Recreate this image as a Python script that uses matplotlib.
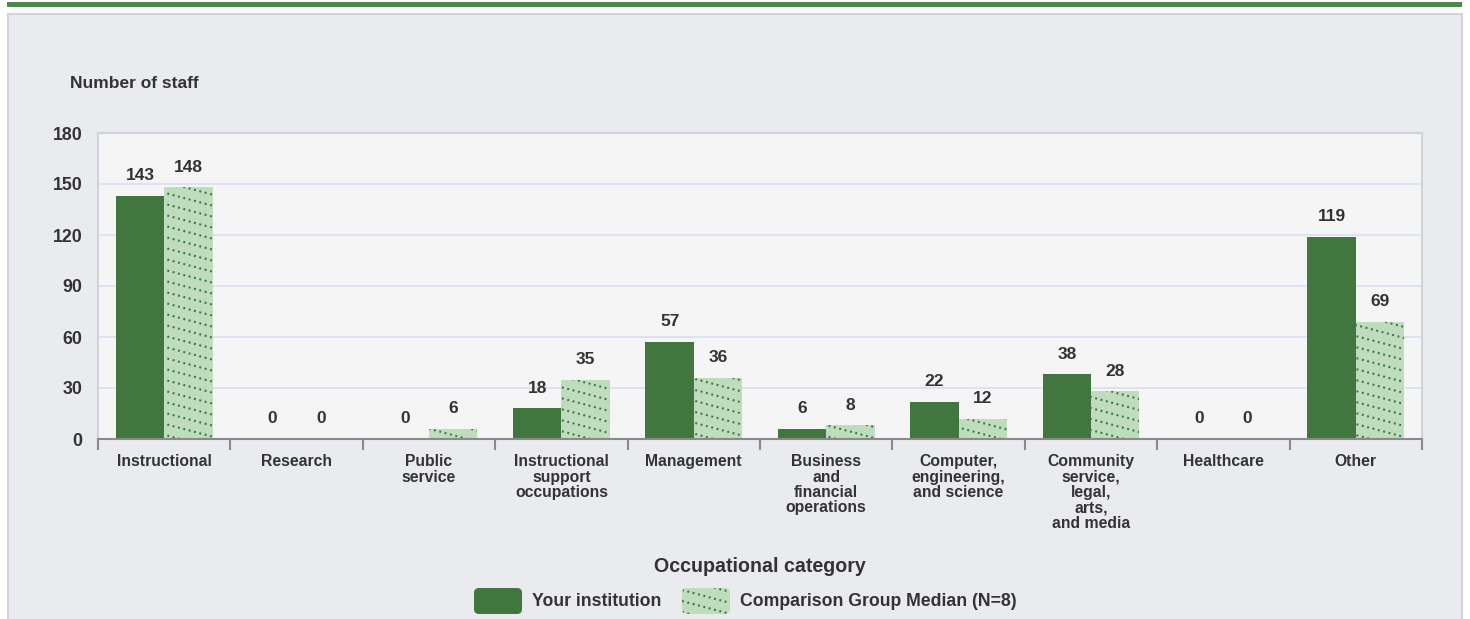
import numpy as np
import matplotlib
matplotlib.use("Agg")
from matplotlib import pyplot as plt
from matplotlib.patches import Rectangle, FancyBboxPatch
from matplotlib.collections import LineCollection
from matplotlib.transforms import IdentityTransform

plt.rcParams['font.family'] = ['Liberation Sans', 'DejaVu Sans']

categories = ["Instructional", "Research", "Public\nservice",
              "Instructional\nsupport\noccupations", "Management",
              "Business\nand\nfinancial\noperations",
              "Computer,\nengineering,\nand science",
              "Community\nservice,\nlegal,\narts,\nand media",
              "Healthcare", "Other"]
institution = [143, 0, 0, 18, 57, 6, 22, 38, 0, 119]
comparison = [148, 0, 6, 35, 36, 8, 12, 28, 0, 69]
yticks = [0, 30, 60, 90, 120, 150, 180]
series_names = ["Your institution", "Comparison Group Median (N=8)"]

dark = '#41763f'
light = '#bfdcbf'
dots = '#2f7a30'
txt = '#333333'

W, H = 1470, 619
fig = plt.figure(figsize=(W / 100, H / 100), dpi=100)
fig.patch.set_facecolor('white')

# top stripe and panel
fig.patches.append(Rectangle((7 / W, 1 - 7 / H), 1455 / W, 5 / H, transform=fig.transFigure,
                             facecolor='#4e8a4a', edgecolor='none', zorder=-10))
fig.patches.append(Rectangle((8 / W, -0.01), 1454 / W, 1 - 14 / H + 0.01, transform=fig.transFigure,
                             facecolor='#eaebef', edgecolor='#d2d3d6', linewidth=1.5, zorder=-10))

ax = fig.add_axes([98 / W, 1 - 439 / H, 1324 / W, 306 / H])
ax.set_facecolor('#f5f5f5')

x = np.arange(len(categories))
bw = 0.365
b1 = ax.bar(x - bw / 2, institution, bw, color=dark, zorder=3)
b2 = ax.bar(x + bw / 2, comparison, bw, color=light, zorder=3)

for bars, vals in ((b1, institution), (b2, comparison)):
    for r, v in zip(bars, vals):
        ax.annotate(str(v), (r.get_x() + r.get_width() / 2, v), xytext=(0, 14.5),
                    textcoords='offset points', ha='center', va='center',
                    fontsize=12.5, fontweight='bold', color=txt, zorder=5)

ax.set_xlim(-0.5, len(categories) - 0.5)
ax.set_ylim(0, 180)
ax.set_yticks(yticks)
ax.tick_params(axis='y', length=0, pad=11, labelsize=12.8, labelcolor=txt)
for t in ax.get_yticklabels():
    t.set_fontweight('bold')
ax.yaxis.grid(True, color='#d5e0ee', linewidth=1.2, zorder=0)
ax.set_axisbelow(True)

ax.set_xticks(x)
ax.set_xticklabels(categories, fontsize=11.3, fontweight='bold', color=txt, linespacing=1.03)
ax.set_xticks(np.arange(len(categories) + 1) - 0.5, minor=True)
ax.tick_params(axis='x', which='major', length=0, pad=11)
ax.tick_params(axis='x', which='minor', length=8, width=1.5, color='#8a8a8a', direction='out')

for s in ('left', 'top', 'right'):
    ax.spines[s].set_color('#cfd3da')
    ax.spines[s].set_linewidth(1.5)
ax.spines['bottom'].set_color('#8a8a8a')
ax.spines['bottom'].set_linewidth(1.5)
ax.spines['bottom'].set_zorder(4)


def dotted_lines(x0, y0, x1, y1, step=11, ang=15):
    sl = np.tan(np.deg2rad(ang))
    segs = []
    yy = y0
    while yy < y1 + sl * (x1 - x0):
        segs.append([(x0, yy), (x1, yy - sl * (x1 - x0))])
        yy += step
    return LineCollection(segs, colors=dots, linewidths=1.5, linestyles=[(0, (0.9, 1.75))],
                          transform=IdentityTransform(), zorder=3.5)


# dotted diagonal pattern on comparison bars
fig.canvas.draw()
ext = ax.get_window_extent()
for r in b2:
    lc = dotted_lines(ext.x0, ext.y0, ext.x1, ext.y1)
    ax.add_collection(lc, autolim=False)
    lc.set_clip_path(r)

fig.text(70 / W, 1 - 84 / H, "Number of staff", fontsize=12.5, fontweight='bold',
         color=txt, ha='left', va='center')
fig.text(760 / W, 1 - 566 / H, "Occupational category", fontsize=14.1, fontweight='bold',
         color=txt, ha='center', va='center')

# legend (pixel coordinates, y from bottom)
legend_x = [474, 682]
sw_y, sw_w, sw_h = H - 614, 48, 26
for i, (lx, name) in enumerate(zip(legend_x, series_names)):
    p = FancyBboxPatch((lx, sw_y), sw_w, sw_h, boxstyle='round,pad=0,rounding_size=5',
                       facecolor=[dark, light][i], edgecolor='none',
                       transform=IdentityTransform())
    fig.add_artist(p)
    if i == 1:
        lc = dotted_lines(lx, sw_y - 20, lx + sw_w, sw_y + sw_h)
        fig.add_artist(lc)
        lc.set_clip_path(p)
    fig.text((lx + sw_w + 10) / W, (sw_y + sw_h / 2) / H, name, fontsize=12.7,
             fontweight='bold', color=txt, ha='left', va='center')

fig.savefig('out.png', dpi=100)
